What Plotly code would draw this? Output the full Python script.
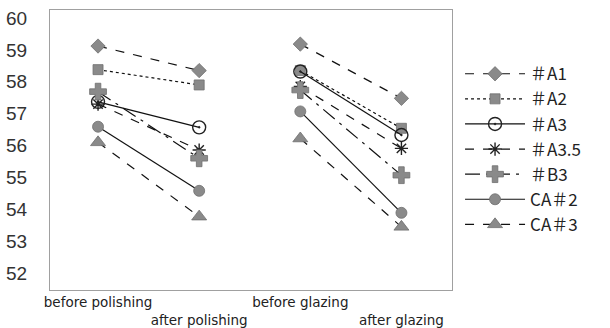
import plotly.graph_objects as go

stages = ["before polishing", "after polishing", "before glazing", "after glazing"]
stage_pos = [0, 1, 2, 3]

series_names = ["＃A1", "＃A2", "＃A3", "＃A3.5", "＃B3", "CA＃2", "CA＃3"]
a1 = [59.12, 58.35, 59.18, 57.48]
a2 = [58.38, 57.90, 58.35, 56.54]
a3 = [57.37, 56.57, 58.32, 56.33]
a35 = [57.30, 55.86, 57.85, 55.91]
b3 = [57.69, 55.60, 57.74, 55.07]
ca2 = [56.59, 54.58, 57.07, 53.89]
ca3 = [56.10, 53.77, 56.22, 53.45]
values = [a1, a2, a3, a35, b3, ca2, ca3]

symbols = ["diamond", "square", "circle-open-dot", "asterisk-open", "cross", "circle", "triangle-up"]
dashes = ["dash", "dot", "solid", "dash", "longdashdot", "solid", "dash"]
sizes = [11, 10, 13, 11, 14, 11, 13]

fig = go.Figure()
for name, v, sym, dash, sz in zip(series_names, values, symbols, dashes, sizes):
    xs = [stage_pos[0], stage_pos[1], None, stage_pos[2], stage_pos[3]]
    ys = [v[0], v[1], None, v[2], v[3]]
    is_open = sym.endswith("open") or sym.endswith("open-dot")
    fig.add_trace(go.Scatter(
        x=xs, y=ys, name=name, mode="lines+markers", connectgaps=False,
        line=dict(color="#111111", width=1.2, dash=dash),
        marker=dict(symbol=sym, size=sz,
                    color="#222222" if is_open else "#8a8a8a",
                    line=dict(color="#222222" if is_open else "#6e6e6e", width=1.4 if is_open else 0.8)),
    ))

ticktext = [stages[0], "<br>" + stages[1], stages[2], "<br>" + stages[3]]

fig.update_layout(
    width=610, height=328,
    margin=dict(l=50, r=158, t=10, b=38, autoexpand=False),
    paper_bgcolor="white", plot_bgcolor="white",
    font=dict(family="DejaVu Sans", color="#222222"),
    showlegend=True,
    legend=dict(x=1.02, y=0.835, xanchor="left", yanchor="top",
                font=dict(size=17, family="Noto Sans CJK JP", color="#222222"),
                itemwidth=60, tracegroupgap=0, bgcolor="rgba(0,0,0,0)"),
    xaxis=dict(range=[-0.475, 3.5], tickvals=stage_pos, ticktext=ticktext,
               showgrid=False, zeroline=False, showline=True, mirror=True,
               linecolor="#a0a0a0", linewidth=1, ticks="", automargin=False,
               ticklabeloverflow="allow", tickangle=0,
               tickfont=dict(size=13.5, family="DejaVu Sans", color="#222222")),
    yaxis=dict(range=[51.47, 60.25], tickvals=list(range(52, 61)),
               showgrid=False, zeroline=False, showline=True, mirror=True,
               linecolor="#a0a0a0", linewidth=1, ticks="", ticklabelstandoff=18,
               automargin=False, ticklabeloverflow="allow",
               tickfont=dict(size=19, family="Liberation Sans", color="#333333")),
)

fig.write_html("out.html", config={"displayModeBar": False},
               post_script="document.body.style.margin='0';")
